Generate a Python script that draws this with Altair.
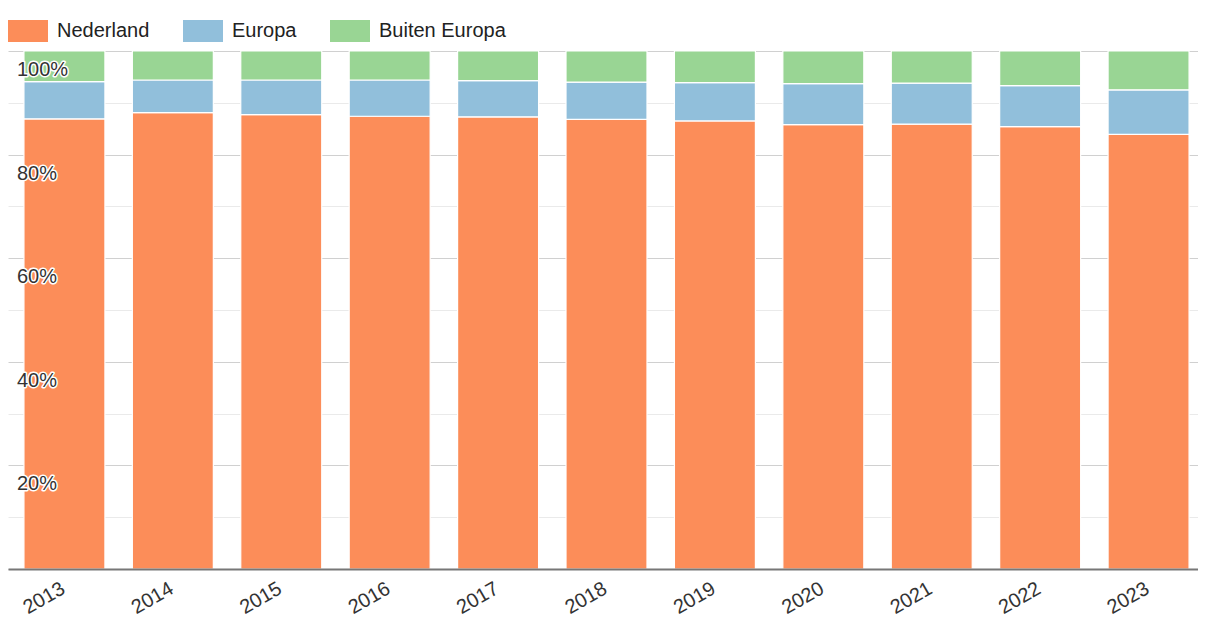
import altair as alt
import pandas as pd

years = ["2013", "2014", "2015", "2016", "2017", "2018", "2019", "2020", "2021", "2022", "2023"]
nederland = [86.9, 88.1, 87.7, 87.4, 87.3, 86.8, 86.5, 85.8, 85.9, 85.4, 83.9]
europa = [7.2, 6.3, 6.7, 7.0, 7.0, 7.2, 7.4, 7.9, 7.9, 7.9, 8.6]
buiten_europa = [5.9, 5.6, 5.6, 5.6, 5.7, 6.0, 6.1, 6.3, 6.2, 6.7, 7.5]

series = ["Nederland", "Europa", "Buiten Europa"]
colors = ["#fc8d59", "#91bfdb", "#99d594"]

tick_values = [20, 40, 60, 80, 100]
tick_labels = ["20%", "40%", "60%", "80%", "100%"]
grid_values = [0, 10, 20, 30, 40, 50, 60, 70, 80, 90, 100]

rows = []
for i, y in enumerate(years):
    for j, (s, vals) in enumerate(zip(series, [nederland, europa, buiten_europa])):
        rows.append({"jaar": y, "herkomst": s, "aandeel": vals[i], "volgorde": j})
df = pd.DataFrame(rows)
labels_df = pd.DataFrame({"aandeel": tick_values, "label": tick_labels})

FONT = "Liberation Sans"
yscale = alt.Scale(domain=[0, 100], nice=False, zero=True)
yaxis = alt.Axis(values=grid_values, labels=False, ticks=False, domain=False,
                 grid=True, gridWidth=1, title=None,
                 gridColor={"condition": {"test": "datum.value % 20 === 0", "value": "#d0d0d0"},
                            "value": "#eaeaea"})

bars = alt.Chart(df).mark_bar(stroke="white", strokeWidth=1.2).encode(
    x=alt.X(
        "jaar:N", sort=years, title=None,
        scale=alt.Scale(paddingInner=0.253, paddingOuter=0.147),
        axis=alt.Axis(labelAngle=330, labelAlign="right", labelBaseline="top",
                      labelPadding=9, labelOffset=-6, labelFontSize=20, labelFont=FONT,
                      labelColor="#333", ticks=False, domainColor="#777",
                      domainWidth=2, grid=False, zindex=1),
    ),
    y=alt.Y("aandeel:Q", stack="zero", scale=yscale, title=None, axis=yaxis),
    color=alt.Color(
        "herkomst:N", sort=series,
        scale=alt.Scale(domain=series, range=colors),
        legend=alt.Legend(title=None, orient="none", legendX=0, legendY=-40,
                          direction="horizontal",
                          symbolType="M-1,-0.55L1,-0.55L1,0.55L-1,0.55Z",
                          symbolSize=1600, symbolStrokeWidth=0, symbolOpacity=1,
                          labelFontSize=20, labelFont=FONT, labelColor="#222",
                          labelOffset=9, columnPadding=33, labelLimit=0),
    ),
    order=alt.Order("volgorde:Q"),
)

halo = alt.Chart(labels_df).mark_text(
    align="left", baseline="middle", dy=19, fontSize=20, font=FONT,
    fill="white", stroke="white", strokeWidth=3, strokeJoin="round",
).encode(
    x=alt.value(9),
    y=alt.Y("aandeel:Q", scale=yscale, title=None, axis=yaxis),
    text="label:N",
)

labels = alt.Chart(labels_df).mark_text(
    align="left", baseline="middle", dy=19, fontSize=20, font=FONT, fill="#333",
).encode(
    x=alt.value(9),
    y=alt.Y("aandeel:Q", scale=yscale, title=None, axis=yaxis),
    text="label:N",
)

chart = alt.layer(bars, halo, labels).properties(
    width=1197, height=518,
    padding={"left": 0, "top": 43, "right": -7, "bottom": 48},
    autosize=alt.AutoSizeParams(type="none"),
).configure_view(stroke=None)

chart.save("out.html", embed_options={"renderer": "svg", "actions": False})
